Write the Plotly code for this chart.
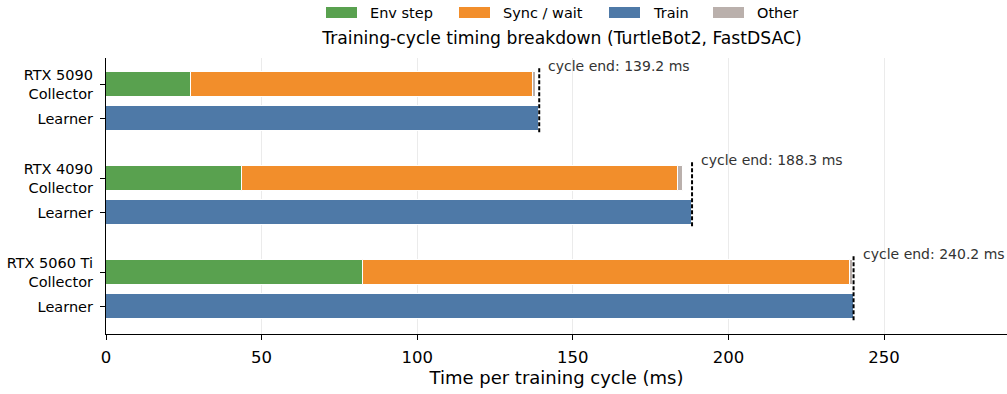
import plotly.graph_objects as go

gpus = ["RTX 5090", "RTX 4090", "RTX 5060 Ti"]
env_step = [27.3, 43.8, 82.5]
sync_wait = [109.9, 140.1, 156.7]
other = [1.1, 1.4, 0.7]
train = [139.2, 188.3, 240.2]
cycle_end = [139.2, 188.3, 240.2]

legend_names = ["Env step", "Sync / wait", "Train", "Other"]
legend_colors = ["#59A14F", "#F28E2B", "#4E79A7", "#BAB0AC"]

W, H = 1007, 394
ML, MR, MT, MB = 106, 0, 58, 60
PW, PH = W - ML - MR, H - MT - MB


def px_to_paper_x(px):
    return (px - ML) / PW


def px_to_paper_y(py):
    return (H - MB - py) / PH


group_gap = 2.75
coll_y = [group_gap * i for i in range(len(gpus))]
learn_y = [y + 1.0 for y in coll_y]
bar_w = 0.75

fig = go.Figure()
marker_line = dict(color="white", width=1)

fig.add_trace(go.Bar(name="Env step", orientation="h", y=coll_y, x=env_step, base=[0]*3,
                     width=bar_w, showlegend=False,
                     marker=dict(color=legend_colors[0], line=marker_line)))
fig.add_trace(go.Bar(name="Sync / wait", orientation="h", y=coll_y, x=sync_wait, base=env_step,
                     width=bar_w, showlegend=False,
                     marker=dict(color=legend_colors[1], line=marker_line)))
fig.add_trace(go.Bar(name="Train", orientation="h", y=learn_y, x=train, base=[0]*3,
                     width=bar_w, showlegend=False,
                     marker=dict(color=legend_colors[2], line=marker_line)))
fig.add_trace(go.Bar(name="Other", orientation="h", y=coll_y, x=other,
                     base=[e + s for e, s in zip(env_step, sync_wait)],
                     width=bar_w, showlegend=False,
                     marker=dict(color=legend_colors[3], line=marker_line)))

# legend drawn as wide swatches + labels (matplotlib style)
swatch_left = [326, 459, 609, 713]
for name, col, sx in zip(legend_names, legend_colors, swatch_left):
    fig.add_shape(type="rect", xref="paper", yref="paper",
                  x0=px_to_paper_x(sx), x1=px_to_paper_x(sx + 31),
                  y0=px_to_paper_y(18), y1=px_to_paper_y(7),
                  fillcolor=col, line=dict(width=0))
    fig.add_annotation(xref="paper", yref="paper", x=px_to_paper_x(sx + 42),
                       y=px_to_paper_y(12.5), text=name, showarrow=False,
                       xanchor="left", yanchor="middle",
                       font=dict(size=14.5, color="black"))

for i, ce in enumerate(cycle_end):
    fig.add_shape(type="line", x0=ce, x1=ce, y0=coll_y[i] - 0.47, y1=learn_y[i] + 0.45,
                  xref="x", yref="y", line=dict(color="black", width=2, dash="4px,2px"))
    fig.add_annotation(x=ce, y=coll_y[i] - 0.535, xref="x", yref="y",
                       text=f"cycle end: {ce:.1f} ms", showarrow=False,
                       xanchor="left", yanchor="middle", xshift=7,
                       font=dict(size=14, color="#333333"))

tickvals = []
ticktext = []
for i, g in enumerate(gpus):
    tickvals += [coll_y[i], learn_y[i]]
    ticktext += [f"{g}<br>Collector", "Learner"]

fig.update_layout(
    width=W, height=H,
    margin=dict(l=ML, r=MR, t=MT, b=MB, autoexpand=False),
    paper_bgcolor="white", plot_bgcolor="white",
    barmode="overlay",
    font=dict(family="DejaVu Sans", color="black"),
    title=dict(text="Training-cycle timing breakdown (TurtleBot2, FastDSAC)",
               x=562 / W, xanchor="center", y=1 - 38 / H,
               yref="container", yanchor="middle",
               font=dict(size=17.2, color="black")),
    showlegend=False,
    bargap=0,
)
fig.update_xaxes(range=[0, 289.5], tickvals=[0, 50, 100, 150, 200, 250],
                 showgrid=True, gridcolor="#ebebeb", gridwidth=1,
                 showline=True, linecolor="black", linewidth=1.2,
                 ticks="outside", ticklen=5, tickcolor="black",
                 tickfont=dict(size=16.5), zeroline=False, automargin=False,
                 ticklabelstandoff=3,
                 title=dict(text="Time per training cycle (ms)", font=dict(size=18), standoff=4))
fig.update_yaxes(range=[7.3, -0.77], tickvals=tickvals, ticktext=ticktext,
                 showgrid=False, showline=True, linecolor="black", linewidth=1.2,
                 ticks="outside", ticklen=5, tickcolor="black",
                 tickfont=dict(size=14.5), zeroline=False, automargin=False,
                 ticklabelstandoff=4)

fig.write_html("out.html",
               config={"displayModeBar": False},
               post_script="document.body.style.margin='0';document.body.style.overflow='hidden';")
